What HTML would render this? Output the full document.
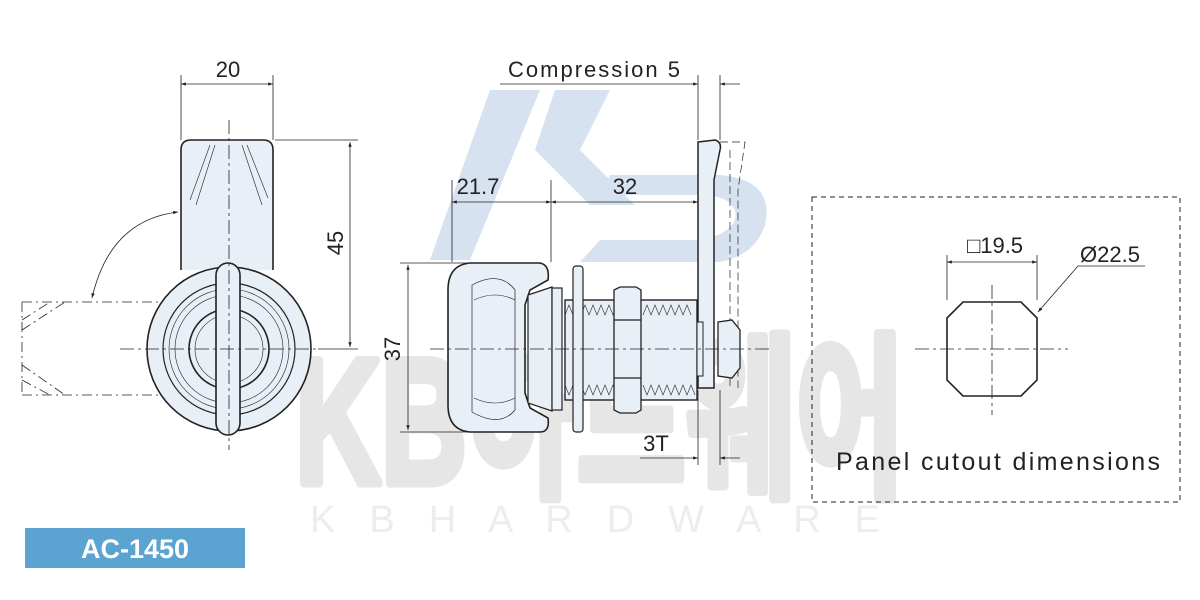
<!DOCTYPE html>
<html><head><meta charset="utf-8"><style>
html,body{margin:0;padding:0;background:#fff;}
svg{display:block;font-family:"Liberation Sans",sans-serif;}
</style></head><body>
<svg width="1200" height="600" viewBox="0 0 1200 600" xmlns="http://www.w3.org/2000/svg">
<defs>
<marker id="a" viewBox="0 0 10 10" refX="10" refY="5" markerWidth="9" markerHeight="6" orient="auto-start-reverse"><path d="M0,1.5 L10,5 L0,8.5z" fill="#222"/></marker>
</defs>
<g fill="#d6e2f0">
<polygon points="490,90 540,90 470,260 430,260"/>
<polygon points="555,90 610,90 580,150 635,205 590,205 535,150"/>
<path d="M610,175 L720,175 Q775,180 765,225 Q755,255 720,262 L580,262 L600,240 L700,240 Q740,232 735,210 Q728,195 700,195 L600,195z"/>
</g>
<text x="295" y="483" font-family="'Liberation Sans','Noto Sans CJK KR',sans-serif" font-size="178" font-weight="bold" fill="#e6e6e6" stroke="#e6e6e6" stroke-width="9" stroke-linejoin="round" textLength="610" lengthAdjust="spacingAndGlyphs">KB하드웨어</text>
<text x="310" y="532" font-size="38" fill="#ededed" textLength="570" lengthAdjust="spacing">K B  H A R D W A R E</text>

<g stroke="#222" fill="none" stroke-width="1">
<path d="M181,270 L181,150 Q181,140 191,140 L263,140 Q273,140 273,150 L273,270" fill="#e9eff7" stroke-width="1.6"/>
<path d="M190,200 L210,145 M196,205 L215,145 M268,198 L247,145 M262,205 L242,145" stroke-width="0.6"/>
<circle cx="229" cy="349" r="82" fill="#e9eff7" stroke-width="1.6"/>
<circle cx="229" cy="349" r="66" stroke-width="1.2"/>
<circle cx="229" cy="349" r="60" stroke-width="0.6"/>
<circle cx="229" cy="349" r="54" stroke-width="0.6"/>
<circle cx="229" cy="349" r="40" stroke-width="1.6"/>
<circle cx="229" cy="349" r="34" stroke-width="0.6"/>
<rect x="216" y="263" width="24" height="172" rx="12" fill="#e9eff7" stroke-width="1.6"/>
<path d="M22,302 L160,302 M22,302 L22,395 M22,395 L160,395 M22,330 L65,302 M22,320 L50,302 M22,365 L65,395 M22,380 L50,395" stroke-dasharray="10,4,2,4" stroke-width="0.8"/>
<path d="M178,212 Q110,220 92,298" marker-end="url(#a)" marker-start="url(#a)" stroke-width="0.8"/>
<path d="M229,120 L229,450 M120,349 L320,349" stroke-dasharray="14,4,3,4" stroke-width="0.8"/>
<path d="M181,75 L181,140 M273,75 L273,140 M275,140 L358,140 M318,349 L358,349" stroke-width="0.8"/>
<path d="M181,84 L273,84" marker-start="url(#a)" marker-end="url(#a)" stroke-width="0.8"/>
<path d="M350,142 L350,347" marker-start="url(#a)" marker-end="url(#a)" stroke-width="0.8"/>

<path d="M470,263 L540,263 Q550,265 548,280 L530,290 L525,305 L525,393 L530,408 L548,418 Q550,432 540,432 L470,432 Q448,430 448,405 L448,290 Q448,265 470,263z" fill="#e9eff7" stroke-width="1.6"/>
<path d="M472,285 Q500,270 515,290 L515,410 Q500,428 472,412z" stroke-width="0.7"/>
<path d="M474,300 Q495,290 515,300 M474,398 Q495,408 515,398" stroke-width="0.6"/>
<path d="M528,295 L552,287 L552,411 L528,403z" fill="#e9eff7" stroke-width="1.2"/>
<rect x="552" y="288" width="10" height="122" fill="#e9eff7" stroke-width="1.2"/>
<rect x="565" y="300" width="132" height="100" fill="#e9eff7" stroke-width="1.4"/>
<g stroke-width="0.6">
<path d="M565,315 l4,-10 l4,10 l4,-10 l4,10 l4,-10 l4,10 l4,-10 l4,10 l4,-10 l4,10 l4,-10 l4,10 l4,-10 l4,10 M643,315 l4,-10 l4,10 l4,-10 l4,10 l4,-10 l4,10 l4,-10 l4,10 l4,-10 l4,10 l4,-10 l4,10"/>
<path d="M565,385 l4,10 l4,-10 l4,10 l4,-10 l4,10 l4,-10 l4,10 l4,-10 l4,10 l4,-10 l4,10 l4,-10 l4,10 M643,385 l4,10 l4,-10 l4,10 l4,-10 l4,10 l4,-10 l4,10 l4,-10 l4,10 l4,-10 l4,10 l4,-10 l4,10"/>
</g>
<rect x="573" y="266" width="10" height="166" rx="3" fill="#e9eff7" stroke-width="1.2"/>
<path d="M614,290 L620,287 L636,287 L641,290 L641,410 L636,413 L620,413 L614,410z M614,320 L641,320 M614,378 L641,378" fill="#e9eff7" stroke-width="1.3"/>
<path d="M698,142 L715,140 Q722,142 720,150 L714,180 L714,388 L698,388z" fill="#e9eff7" stroke-width="1.5"/>
<path d="M720,142 L745,142 L738,190 L738,388 M730,150 L730,388" stroke-dasharray="8,4" stroke-width="0.7"/>
<rect x="697" y="322" width="6" height="54" fill="#e9eff7" stroke-width="1"/>
<path d="M718,322 L732,320 L740,330 L740,368 L732,378 L718,376z" fill="#e9eff7" stroke-width="1.3"/>
<path d="M430,349 L770,349" stroke-dasharray="14,4,3,4" stroke-width="0.8"/>
<path d="M452,180 L452,262 M551,180 L551,262 M698,75 L698,140 M720,75 L720,140 M698,390 L698,465 M720,390 L720,465 M400,263 L468,263 M400,432 L468,432" stroke-width="0.8"/>
<path d="M452,202 L551,202" marker-start="url(#a)" marker-end="url(#a)" stroke-width="0.8"/>
<path d="M551,202 L698,202" marker-start="url(#a)" marker-end="url(#a)" stroke-width="0.8"/>
<path d="M408,265 L408,430" marker-start="url(#a)" marker-end="url(#a)" stroke-width="0.8"/>
<path d="M500,84 L698,84" marker-end="url(#a)" stroke-width="0.8"/>
<path d="M740,84 L720,84" marker-end="url(#a)" stroke-width="0.8"/>
<path d="M640,458 L698,458" marker-end="url(#a)" stroke-width="0.8"/>
<path d="M740,458 L720,458" marker-end="url(#a)" stroke-width="0.8"/>

<rect x="812" y="197" width="368" height="305" stroke-dasharray="5,4" stroke-width="1"/>
<path d="M963,302 L1021,302 L1037,318 L1037,380 L1021,396 L963,396 L947,380 L947,318z" stroke-width="1.6"/>
<path d="M915,349 L1068,349 M992,285 L992,415" stroke-dasharray="14,4,3,4" stroke-width="0.8"/>
<path d="M947,255 L947,300 M1037,255 L1037,300" stroke-width="0.8"/>
<path d="M947,262 L1037,262" marker-start="url(#a)" marker-end="url(#a)" stroke-width="0.8"/>
<path d="M1145,266 L1078,266 L1038,312" marker-end="url(#a)" stroke-width="0.8"/>
</g>

<g fill="#222" font-size="22">
<text x="228" y="77" text-anchor="middle">20</text>
<text transform="translate(343,243) rotate(-90)" text-anchor="middle">45</text>
<text x="594" y="77" text-anchor="middle" textLength="172" lengthAdjust="spacing">Compression 5</text>
<text x="478" y="194" text-anchor="middle">21.7</text>
<text x="625" y="194" text-anchor="middle">32</text>
<text transform="translate(400,349) rotate(-90)" text-anchor="middle">37</text>
<text x="656" y="451" text-anchor="middle">3T</text>
<text x="995" y="253" text-anchor="middle">□19.5</text>
<text x="1110" y="262" text-anchor="middle">Ø22.5</text>
<text x="836" y="470" font-size="25" textLength="324" lengthAdjust="spacing">Panel cutout dimensions</text>
</g>
<rect x="25" y="528" width="220" height="40" fill="#5ba4d2"/>
<text x="135" y="558" text-anchor="middle" fill="#fff" font-size="27" font-weight="bold">AC-1450</text>
</svg>
</body></html>
